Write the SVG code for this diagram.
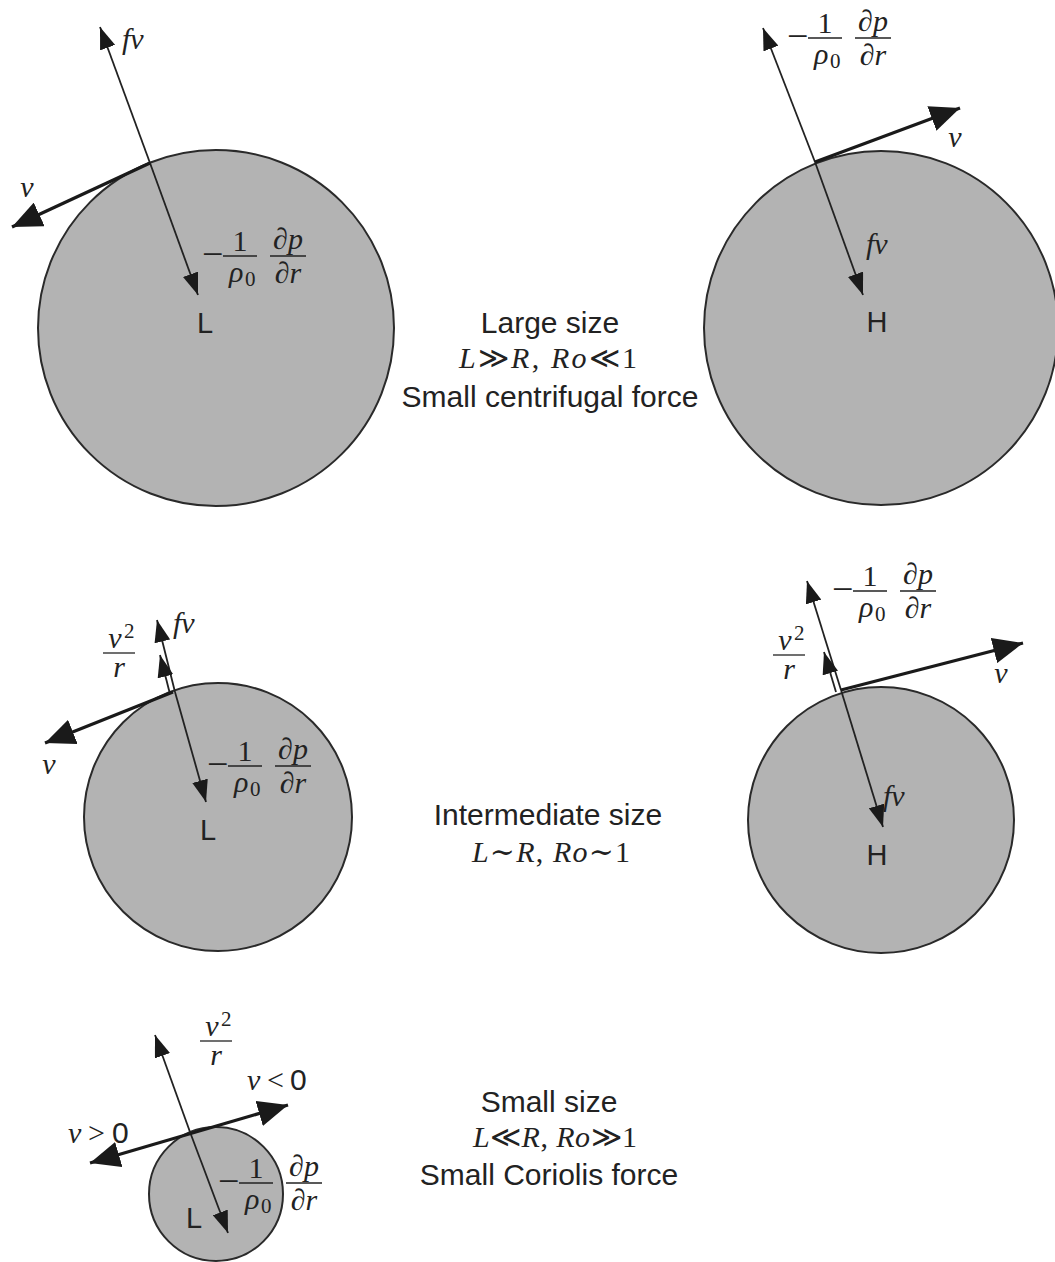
<svg xmlns="http://www.w3.org/2000/svg" width="1055" height="1262" viewBox="0 0 1055 1262">
<style>
.bg{fill:#ffffff}
.disk{fill:#b3b3b3;stroke:#2a2a2a;stroke-width:2}
.thin{stroke:#222;stroke-width:1.8;fill:none}
.thick{stroke:#1a1a1a;stroke-width:3.2;fill:none}
.bar{stroke:#222;stroke-width:1.3}
.sans{font-family:"Liberation Sans",Arial,sans-serif;font-size:30px;fill:#222}
.lbl{font-family:"Liberation Sans",Arial,sans-serif;font-size:29px;fill:#222}
.mi{font-family:"Liberation Serif","DejaVu Serif",serif;font-style:italic;font-size:30px;fill:#222}
.mu{font-family:"Liberation Serif","DejaVu Serif",serif;font-style:normal;font-size:30px;fill:#222}
.minus{font-family:"Liberation Serif","DejaVu Serif",serif;font-style:normal;font-size:38px;fill:#222}
.sub{font-family:"Liberation Serif","DejaVu Serif",serif;font-style:normal;font-size:21px;fill:#222}
.eq{font-family:"Liberation Serif","DejaVu Serif",serif;font-size:30px;fill:#222}
</style>
<defs>
<marker id="ah" viewBox="0 0 22 16" refX="22" refY="8" markerWidth="22" markerHeight="16" markerUnits="userSpaceOnUse" orient="auto-start-reverse">
<path d="M0,0 L22,8 L0,16 z" fill="#1a1a1a"/>
</marker>
<marker id="ahb" viewBox="0 0 30 26" refX="30" refY="13" markerWidth="30" markerHeight="26" markerUnits="userSpaceOnUse" orient="auto-start-reverse">
<path d="M0,0 L30,13 L0,26 z" fill="#1a1a1a"/>
</marker>
<g id="dpdr">
<text class="minus" x="-1" y="11">−</text>
<line class="bar" x1="20" y1="0" x2="54" y2="0"/>
<text class="mu" x="37" y="-5" text-anchor="middle">1</text>
<text class="mi" x="26" y="26" font-size="30">ρ</text>
<text class="sub" x="42" y="30">0</text>
<line class="bar" x1="67" y1="0" x2="103" y2="0"/>
<text class="mi" x="85" y="-7" text-anchor="middle" font-size="29">∂p</text>
<text class="mi" x="85" y="27" text-anchor="middle" font-size="29">∂r</text>
</g>
<g id="v2r">
<text class="mi" x="-4" y="-5" text-anchor="middle">v</text>
<text class="sub" x="5" y="-15">2</text>
<line class="bar" x1="-16" y1="0" x2="16" y2="0"/>
<text class="mi" x="0" y="24" text-anchor="middle" font-size="29">r</text>
</g>
</defs>
<rect class="bg" x="0" y="0" width="1055" height="1262"/>

<g id="node-large-L">
<circle class="disk" cx="216" cy="328" r="178"/>
<text class="lbl" x="205" y="333" text-anchor="middle">L</text>
</g>
<g id="node-large-H">
<circle class="disk" cx="881" cy="328" r="177"/>
<text class="lbl" x="877" y="332" text-anchor="middle">H</text>
</g>
<g id="node-mid-L">
<circle class="disk" cx="218" cy="817" r="134"/>
<text class="lbl" x="208" y="840" text-anchor="middle">L</text>
</g>
<g id="node-mid-H">
<circle class="disk" cx="881" cy="820" r="133"/>
<text class="lbl" x="877" y="865" text-anchor="middle">H</text>
</g>
<g id="node-small-L">
<circle class="disk" cx="216" cy="1194" r="67"/>
<text class="lbl" x="194" y="1228" text-anchor="middle">L</text>
</g>

<g id="connectors">
<!-- large L -->
<line class="thin" x1="150" y1="163" x2="100" y2="27" marker-end="url(#ah)"/>
<line class="thin" x1="150" y1="163" x2="198" y2="295" marker-end="url(#ah)"/>
<line class="thick" x1="150" y1="163" x2="12" y2="227" marker-end="url(#ahb)"/>
<!-- large H -->
<line class="thin" x1="815" y1="162" x2="763" y2="28" marker-end="url(#ah)"/>
<line class="thin" x1="815" y1="162" x2="863" y2="295" marker-end="url(#ah)"/>
<line class="thick" x1="815" y1="162" x2="960" y2="108" marker-end="url(#ahb)"/>
<!-- mid L -->
<line class="thin" x1="175" y1="692" x2="157" y2="620" marker-end="url(#ah)"/>
<line class="thin" x1="175" y1="692" x2="206" y2="802" marker-end="url(#ah)"/>
<line class="thin" x1="170" y1="694" x2="160" y2="655" marker-end="url(#ah)"/>
<line class="thick" x1="173" y1="692" x2="45" y2="743" marker-end="url(#ahb)"/>
<!-- mid H -->
<line class="thin" x1="841" y1="690" x2="807" y2="581" marker-end="url(#ah)"/>
<line class="thin" x1="841" y1="690" x2="883" y2="827" marker-end="url(#ah)"/>
<line class="thin" x1="836" y1="692" x2="824" y2="652" marker-end="url(#ah)"/>
<line class="thick" x1="841" y1="690" x2="1023" y2="643" marker-end="url(#ahb)"/>
<!-- small L -->
<line class="thin" x1="190" y1="1132" x2="155" y2="1035" marker-end="url(#ah)"/>
<line class="thin" x1="190" y1="1132" x2="228" y2="1233" marker-end="url(#ah)"/>
<line class="thick" x1="90" y1="1163" x2="288" y2="1105" marker-start="url(#ahb)" marker-end="url(#ahb)"/>
</g>

<g id="labels">
<!-- large L -->
<text class="mi" x="122" y="49">fv</text>
<text class="mi" x="27" y="197" text-anchor="middle">v</text>
<use href="#dpdr" x="203" y="256"/>
<!-- large H -->
<use href="#dpdr" x="788" y="38"/>
<text class="mi" x="955" y="147" text-anchor="middle">v</text>
<text class="mi" x="866" y="254">fv</text>
<!-- mid L -->
<use href="#v2r" x="119" y="653"/>
<text class="mi" x="173" y="633">fv</text>
<text class="mi" x="49" y="774" text-anchor="middle">v</text>
<use href="#dpdr" x="208" y="766"/>
<!-- mid H -->
<use href="#dpdr" x="833" y="591"/>
<use href="#v2r" x="789" y="655"/>
<text class="mi" x="1001" y="683" text-anchor="middle">v</text>
<text class="mi" x="883" y="806">fv</text>
<!-- small L -->
<use href="#v2r" x="216" y="1041"/>
<text class="mi" x="247" y="1090">v</text>
<text class="mu" x="267" y="1090" font-size="30">&lt;</text>
<text class="sans" x="290" y="1090" font-size="30">0</text>
<text class="mi" x="68" y="1143">v</text>
<text class="mu" x="88" y="1143" font-size="30">&gt;</text>
<text class="sans" x="112" y="1143" font-size="30">0</text>
<use href="#dpdr" x="219" y="1183"/>
</g>

<g id="captions">
<text class="sans" x="550" y="333" text-anchor="middle">Large size</text>
<text class="eq" x="548" y="368" text-anchor="middle" textLength="178" lengthAdjust="spacing"><tspan font-style="italic">L</tspan>≫<tspan font-style="italic">R</tspan>, <tspan font-style="italic">Ro</tspan>≪1</text>
<text class="sans" x="550" y="407" text-anchor="middle">Small centrifugal force</text>
<text class="sans" x="548" y="825" text-anchor="middle">Intermediate size</text>
<text class="eq" x="551" y="862" text-anchor="middle" textLength="158" lengthAdjust="spacing"><tspan font-style="italic">L</tspan>∼<tspan font-style="italic">R</tspan>, <tspan font-style="italic">Ro</tspan>∼1</text>
<text class="sans" x="549" y="1112" text-anchor="middle">Small size</text>
<text class="eq" x="555" y="1147" text-anchor="middle" textLength="164" lengthAdjust="spacing"><tspan font-style="italic">L</tspan>≪<tspan font-style="italic">R</tspan>, <tspan font-style="italic">Ro</tspan>≫1</text>
<text class="sans" x="549" y="1185" text-anchor="middle">Small Coriolis force</text>
</g>
</svg>
